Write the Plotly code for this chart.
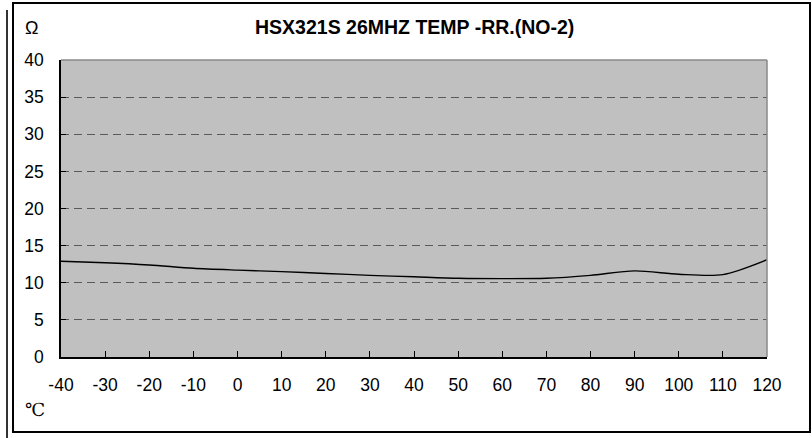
import plotly.graph_objects as go

temps = [-40, -30, -20, -10, 0, 10, 20, 30, 40, 50, 60, 70, 80, 90, 100, 110, 120]
ohms = [12.9, 12.7, 12.4, 11.95, 11.7, 11.5, 11.25, 11.0, 10.8, 10.6, 10.55, 10.6, 11.0, 11.6, 11.15, 11.1, 13.1]

x_ticks = list(range(-40, 121, 10))
x_ticktext = [str(v) for v in x_ticks]
y_ticks = list(range(0, 41, 5))
y_ticktext = [str(v) for v in y_ticks]
title_text = "HSX321S 26MHZ TEMP -RR.(NO-2)"
y_unit = "Ω"
x_unit = "℃"

W, H = 812, 438
L, R, T, B = 61, 45, 60, 81
pw, ph = W - L - R, H - T - B


def px(x):
    return (x - L) / pw


def py(y):
    return (H - B - y) / ph


fig = go.Figure()
fig.add_trace(go.Scatter(x=temps, y=ohms, mode="lines",
                         line=dict(color="black", width=1.4, shape="spline", smoothing=0.8),
                         hoverinfo="skip"))

font = "Liberation Sans, Arial, sans-serif"
fig.update_layout(
    width=W, height=H,
    margin=dict(l=L, r=R, t=T, b=B),
    paper_bgcolor="white",
    plot_bgcolor="#c0c0c0",
    showlegend=False,
    font=dict(family=font, size=17, color="black"),
    xaxis=dict(range=[-40, 120], tickvals=x_ticks, ticktext=x_ticktext,
               ticks="inside", ticklen=6,
               tickcolor="black", showgrid=False, zeroline=False,
               showline=True, linecolor="black", linewidth=1.5,
               ticklabelstandoff=11, tickfont=dict(size=17.5)),
    yaxis=dict(range=[0, 40], tickvals=y_ticks, ticktext=y_ticktext,
               ticks="inside", ticklen=5,
               tickcolor="black", showgrid=True, gridcolor="#5a5a5a",
               griddash="8px,5px", gridwidth=1, zeroline=False,
               showline=True, linecolor="black", linewidth=1.5,
               ticklabelstandoff=12, tickfont=dict(size=17.5)),
)

shapes = [
    # plot area top/right border
    dict(type="line", xref="paper", yref="paper", x0=0, x1=1, y0=1, y1=1,
         line=dict(color="#8a8a8a", width=1.5)),
    dict(type="line", xref="paper", yref="paper", x0=1, x1=1, y0=0, y1=1,
         line=dict(color="#8a8a8a", width=1.5)),
    # outer frame
    dict(type="rect", xref="paper", yref="paper", x0=px(13), x1=px(810),
         y0=py(432), y1=py(3), line=dict(color="black", width=2)),
    # stray left line
    dict(type="line", xref="paper", yref="paper", x0=px(7), x1=px(7),
         y0=py(438), y1=py(10), line=dict(color="#333333", width=2)),
]
fig.update_layout(shapes=shapes)

annotations = [
    dict(text="<b>" + title_text + "</b>", xref="paper", yref="paper",
         x=px(414), y=py(27), showarrow=False, xanchor="center", yanchor="middle",
         font=dict(size=19.5, family=font)),
    dict(text=y_unit, xref="paper", yref="paper", x=px(23), y=py(28),
         showarrow=False, xanchor="left", yanchor="middle",
         font=dict(size=18, family=font)),
    dict(text=x_unit, xref="paper", yref="paper", x=px(23), y=py(409),
         showarrow=False, xanchor="left", yanchor="middle",
         font=dict(size=18, family="DejaVu Serif, serif")),
]
fig.update_layout(annotations=annotations)

fig.write_html("out.html", config={"displayModeBar": False},
               post_script="document.body.style.margin='0';document.body.style.overflow='hidden';")
